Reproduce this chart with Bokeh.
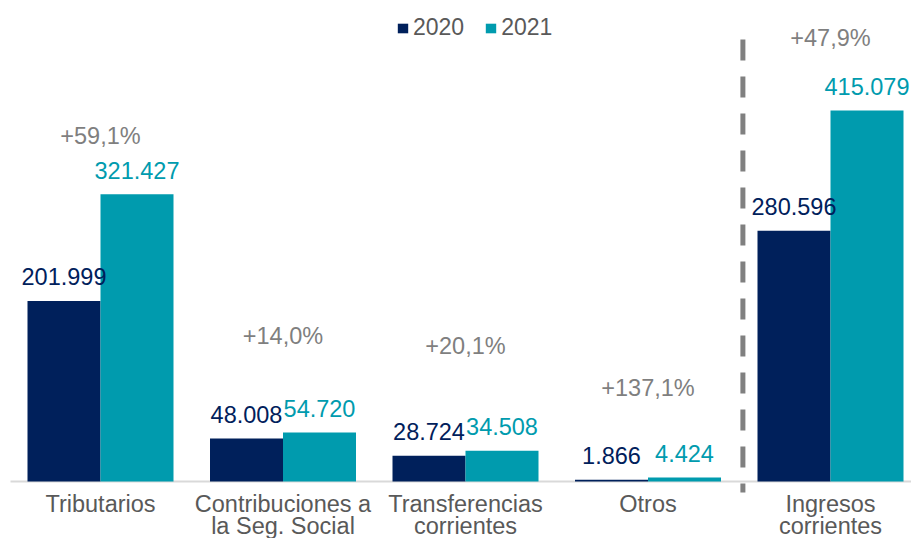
from bokeh.plotting import figure
from bokeh.models import Range1d, Legend, LegendItem
from bokeh.core.properties import value
from bokeh.embed import file_html
from bokeh.resources import INLINE

# ---- data (thousands) ----
categories = ["Tributarios", "Contribuciones a\nla Seg. Social", "Transferencias\ncorrientes", "Otros", "Ingresos\ncorrientes"]
values_2020 = [201.999, 48.008, 28.724, 1.866, 280.596]
values_2021 = [321.427, 54.720, 34.508, 4.424, 415.079]
labels_2020 = ["201.999", "48.008", "28.724", "1.866", "280.596"]
labels_2021 = ["321.427", "54.720", "34.508", "4.424", "415.079"]
pct_labels = ["+59,1%", "+14,0%", "+20,1%", "+137,1%", "+47,9%"]

# ---- layout / style ----
pct_label_y = [378, 154, 143, 96, 486.6]
C2020 = "#00205B"
C2021 = "#009BAE"
TXT = "#595959"
PCT = "#7F7F7F"
FONT = value("Liberation Sans")

W, H = 911, 538
KX, KY = 182.5, 0.894
xs = -100 / KX
xe = xs + W / KX
ye = 481 / KY
ys = ye - H / KY
SH = 8  # text shift up (px)

p = figure(width=W, height=H, x_range=Range1d(xs, xe), y_range=Range1d(ys, ye),
           output_backend="svg", toolbar_location=None, x_axis_type=None, y_axis_type=None,
           min_border=0)
p.grid.visible = False
p.outline_line_color = None

n = len(categories)
idx = list(range(n))
bw = 0.4
x20 = [i - bw / 2 for i in idx]
x21 = [i + bw / 2 for i in idx]

# axis line
p.segment(x0=[xs + 10 / KX], y0=[0], x1=[xe], y1=[0], line_color="#D9D9D9", line_width=2)

r20 = p.vbar(x=x20, top=values_2020, bottom=0, width=bw, fill_color=C2020, line_color=None)
r21 = p.vbar(x=x21, top=values_2021, bottom=0, width=bw, fill_color=C2021, line_color=None)

# separator
sep_x = 3.52
p.segment(x0=[sep_x], y0=[(481 - 39) / KY], x1=[sep_x], y1=[(481 - 492) / KY],
          line_color="#808080", line_width=5, line_dash="21 16")

# value labels
p.text(x=x20, y=values_2020, text=labels_2020, text_align="center", text_baseline="alphabetic",
       y_offset=-16 - SH, text_font=FONT, text_font_size="23.5px", text_color=C2020)
p.text(x=x21, y=values_2021, text=labels_2021, text_align="center", text_baseline="alphabetic",
       y_offset=-16 - SH, text_font=FONT, text_font_size="23.5px", text_color=C2021)

# pct labels
p.text(x=idx, y=pct_label_y, text=pct_labels, text_align="center", text_baseline="alphabetic",
       y_offset=-SH, text_font=FONT, text_font_size="23.5px", text_color=PCT)

# category labels
line1 = [c.split("\n")[0] for c in categories]
line2 = [c.split("\n")[1] if "\n" in c else "" for c in categories]
p.text(x=idx, y=[0] * n, text=line1, text_align="center", text_baseline="alphabetic",
       y_offset=30 - SH, text_font=FONT, text_font_size="23.5px", text_color=TXT)
p.text(x=idx, y=[0] * n, text=line2, text_align="center", text_baseline="alphabetic",
       y_offset=52 - SH, text_font=FONT, text_font_size="23.5px", text_color=TXT)

legend = Legend(items=[LegendItem(label="2020", renderers=[r20]), LegendItem(label="2021", renderers=[r21])],
                orientation="horizontal", location=(396, 497), glyph_width=13, glyph_height=12,
                label_standoff=4, spacing=20, padding=0, margin=0, border_line_color=None,
                background_fill_alpha=0, label_text_font="Liberation Sans", label_text_font_size="23px",
                label_text_color=TXT, label_height=26)
p.add_layout(legend)

open("out.html", "w").write(file_html(p, INLINE))
